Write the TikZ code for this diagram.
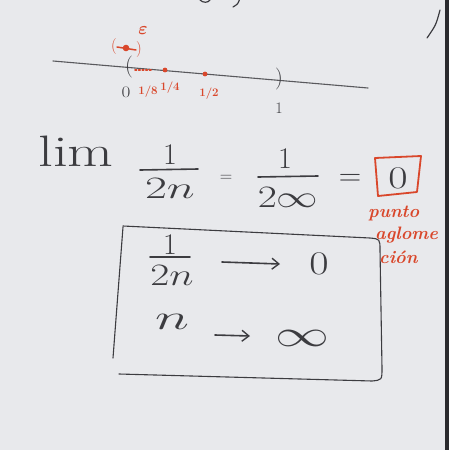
\documentclass[tikz,border=0pt]{standalone}
\usepackage{amsmath}
\usepackage{graphicx}
\usetikzlibrary{arrows.meta}
\definecolor{board}{HTML}{E8E9EC}
\definecolor{ink}{HTML}{3C3C40}
\definecolor{redink}{HTML}{D9472B}
\definecolor{frame}{HTML}{2A2A2E}
\newcommand{\hm}[3]{\scalebox{#1}[#2]{$#3$}}
\tikzset{
  blk/.style={text=ink, inner sep=0pt},
  rd/.style={text=redink, inner sep=0pt},
  pen/.style={draw=ink, line width=1.6pt, line cap=round, line join=round},
  redpen/.style={draw=redink, line width=1.8pt, line cap=round, line join=round},
  big/.style={font=\fontsize{30}{32}\selectfont},
  base/.style={font=\fontsize{20}{22}\selectfont},
  sml/.style={font=\fontsize{16}{17}\selectfont},
  lbl/.style={font=\fontsize{11.5}{12}\selectfont\bfseries},
  word/.style={font=\fontsize{18}{19}\selectfont\bfseries\itshape, anchor=west},
  barb/.style={-{Straight Barb[length=7pt,width=11pt,line width=1.4pt]}},
}
\begin{document}
\begin{tikzpicture}[x=1pt,y=-1pt]
\useasboundingbox (0,0) rectangle (449,450);
\fill[board] (0,0) rectangle (449,450);
\fill[frame] (445,0) rectangle (449,450);
% partial strokes at the top edge
\draw[pen, line width=1.2pt] (240,-2) .. controls (238,4) .. (233,7);
\draw[pen, line width=1.2pt] (200,0) .. controls (203,3) and (208,3) .. (210,0);
\draw[pen, line width=1.2pt] (440,10) .. controls (436,25) .. (427,38);
% number line
\coordinate (L0) at (53,61);
\coordinate (L1) at (368,88);
\draw[pen, line width=1.1pt, draw=ink!85] (L0) -- (L1);
\node[blk, font=\fontsize{22}{24}\selectfont] (lpar) at (129,67) {(};
\node[blk, font=\fontsize{22}{24}\selectfont] (rpar) at (279,79) {)};
\draw[redink, line width=1.6pt, dotted, line cap=round] (135,70) -- (152,70);
\fill[redink] (165,70) circle (2.4pt) coordinate (q);
\fill[redink] (205,74) circle (2.4pt) coordinate (h);
\node[blk, sml] (zero) at (126,92) {\scalebox{1.2}[1]{0}};
\node[rd, lbl] (e8) at (148,92) {1/8};
\node[rd, lbl] (e4) at (170,88) {1/4};
\node[rd, lbl] (e2) at (209,94) {1/2};
\node[blk, sml] (one) at (279,108) {1};
% epsilon neighbourhood
\node[rd, sml] (ob) at (114,47) {(};
\node[rd, sml] (cb) at (139,50) {)};
\draw[redpen, line width=1.5pt] (ob.east) -- (cb.west);
\fill[redink] (126,48) circle (3.3pt) coordinate (ec);
\node[rd, base] (eps) at (143,31) {\hm{0.85}{0.85}{\boldsymbol{\varepsilon}}};
% limit line
\node[blk, font=\fontsize{44}{46}\selectfont] (lim) at (76,151) {\scalebox{1.35}[1]{lim}};
\node[blk, big] (n1) at (170,155) {1};
\draw[pen] (140,170) -- (198,169);
\node[blk, base] (d1) at (170,188) {\hm{2.3}{1.5}{2n}};
\node[blk, sml] (eqa) at (226,178) {$=$};
\node[blk, big] (n2) at (285,159) {1};
\draw[pen] (258,177) -- (318,176);
\node[blk, base] (d2) at (288,197) {\hm{2}{1.5}{2\infty}};
\node[blk, base] (eqb) at (350,180) {\hm{1.5}{1.5}{=}};
\node[blk, big] (res) at (398,178) {\scalebox{1.4}[1.05]{0}};
\draw[redpen] (375,158) -- (421,156) -- (417,192) -- (378,196) -- cycle;
\node[rd, word] (p1) at (368,213) {punto};
\node[rd, word] (p2) at (375,235) {aglome};
\node[rd, word] (p3) at (379,257) {ción};
% summary box
\draw[pen, line width=1.1pt] (123,227) -- (113,358);
\draw[pen, line width=1.1pt] (123,226) -- (370,238) .. controls (380,239) .. (380,250)
  -- (382,368) .. controls (382,380) .. (372,381) -- (119,374);
\node[blk, big] (n3) at (170,245) {1};
\draw[pen] (150,257) -- (190,257);
\node[blk, base] (d3) at (172,275) {\hm{2}{1.5}{2n}};
\node[blk, big] (z2) at (319,264) {\scalebox{1.4}[1.1]{0}};
\draw[pen, barb] (222,262) -- (280,264);
\node[blk, base] (nn) at (172,322) {\hm{2.8}{1.7}{n}};
\node[blk, base] (inf) at (302,338) {\hm{2.6}{1.8}{\infty}};
\draw[pen, barb] (215,335) -- (250,336);
\end{tikzpicture}
\end{document}
